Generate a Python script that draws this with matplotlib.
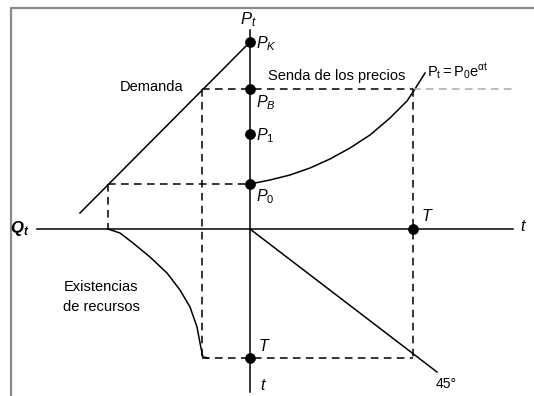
import matplotlib
matplotlib.use("Agg")
import matplotlib.pyplot as plt

plt.rcParams["font.family"] = ["Liberation Sans", "DejaVu Sans"]
plt.rcParams["mathtext.fontset"] = "custom"
plt.rcParams["mathtext.rm"] = "Liberation Sans"
plt.rcParams["mathtext.it"] = "Liberation Sans:italic"
plt.rcParams["mathtext.bf"] = "Liberation Sans:bold:italic"

# Diagram values (origin = where the two axes cross)
price_levels = {"P0": 45, "P1": 95, "PB": 140, "PK": 187}
T_horiz = 163      # exhaustion time on the t axis
T_vert = -129      # exhaustion time on the lower t axis
Q_at_PB = -48      # quantity demanded at P_B
Q_at_P0 = -142     # quantity demanded at P_0 (= initial stock)

demand_x = [0, -170]
demand_y = [187, 16]

# price path
price_t = [0, 20, 40, 60, 80, 100, 120, 140, 157, 165, 175]
price_p = [45, 49, 54, 61, 70, 81, 94, 111, 128, 140, 156]

# stock of resource
stock_q = [-142, -130, -117, -100, -83, -70, -60, -53, -50, -48, -47, -42]
stock_t = [0, -4, -14, -28, -44, -61, -78, -98, -114, -124, -128, -129]

line45_x = [0, 187]
line45_y = [0, -143]

fig = plt.figure(figsize=(5.34, 3.96), dpi=100)
ax = fig.add_axes([0, 0, 1, 1])
ax.set_xlim(-250, 284)
ax.set_ylim(-167, 229)
ax.axis("off")

# frame (left and top only)
ax.plot([11 / 534, 11 / 534, 1], [0, 1 - 8 / 396, 1 - 8 / 396],
        transform=ax.transAxes, color="#8a8a8a", lw=1.6, clip_on=False)

lw = 1.1
dash = (0, (5, 3.5))

# axes
ax.plot([0, 0], [199, -163], color="black", lw=lw)
ax.plot([-213, 263], [0, 0], color="black", lw=lw)

# demand, price path, stock, 45 degree line
ax.plot(demand_x, demand_y, color="black", lw=lw)
ax.plot(price_t, price_p, color="black", lw=lw)
ax.plot(stock_q, stock_t, color="black", lw=lw)
ax.plot(line45_x, line45_y, color="black", lw=lw)

# dashed guides
PB = price_levels["PB"]
P0 = price_levels["P0"]
ax.plot([Q_at_PB, T_horiz], [PB, PB], color="black", lw=lw, ls=dash)
ax.plot([T_horiz, 262], [PB, PB], color="#aaaaaa", lw=lw, ls=dash)
ax.plot([Q_at_PB, Q_at_PB], [PB, T_vert], color="black", lw=lw, ls=dash)
ax.plot([Q_at_P0, 0], [P0, P0], color="black", lw=lw, ls=dash)
ax.plot([Q_at_P0, Q_at_P0], [P0, 0], color="black", lw=lw, ls=dash)
ax.plot([T_horiz, T_horiz], [PB, T_vert], color="black", lw=lw, ls=dash)
ax.plot([Q_at_PB, T_horiz], [T_vert, T_vert], color="black", lw=lw, ls=dash)

# points
ax.scatter([0] * len(price_levels), list(price_levels.values()),
           s=45, color="black", zorder=5)
ax.scatter([T_horiz, 0], [0, T_vert], s=45, color="black", zorder=5)

# labels
ax.text(-2, 209, "$P_t$", fontsize=12, ha="center", va="center")
ax.text(6, 185, "$P_K$", fontsize=11.5, ha="left", va="center")
ax.text(6, 126, "$P_B$", fontsize=11.5, ha="left", va="center")
ax.text(6, 93, "$P_1$", fontsize=11.5, ha="left", va="center")
ax.text(6, 32, "$P_0$", fontsize=11.5, ha="left", va="center")
ax.text(-98, 142, "Demanda", fontsize=10.5, ha="center", va="center")
ax.text(87, 153, "Senda de los precios", fontsize=10.5, ha="center", va="center")
ax.text(177, 158, r"$\mathrm{P_t = P_0e^{\alpha t}}$", fontsize=10.5,
        ha="left", va="center")
ax.text(171, 13, "$T$", fontsize=11.5, ha="left", va="center")
ax.text(270, 2, "$t$", fontsize=11.5, ha="left", va="center")
ax.text(-230, 0, r"$\mathbf{Q_t}$", fontsize=12, ha="center", va="center")
ax.text(-149, -68, "Existencias\nde recursos", fontsize=10.5,
        ha="center", va="center", linespacing=1.5)
ax.text(8, -117, "$T$", fontsize=11.5, ha="left", va="center")
ax.text(10, -157, "$t$", fontsize=11.5, ha="left", va="center")
ax.text(186, -155, "45°", fontsize=10, ha="left", va="center")

fig.savefig("out.png", dpi=100)
